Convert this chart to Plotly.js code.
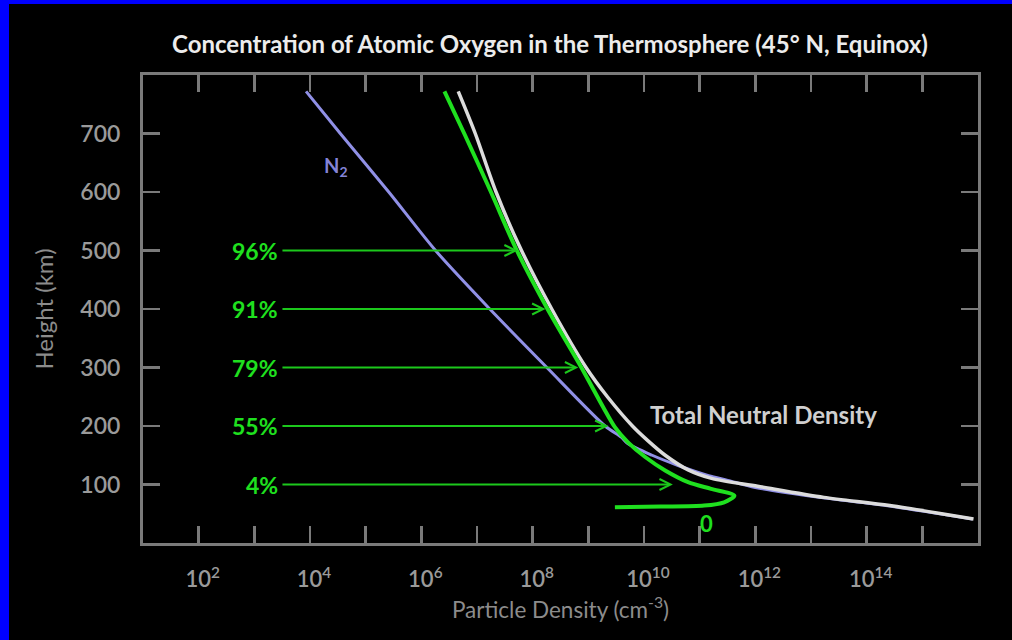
<!DOCTYPE html>
<html>
<head>
<meta charset="utf-8">
<script src="https://cdn.plot.ly/plotly-3.0.1.min.js"></script>
<style>
  html, body { margin: 0; padding: 0; background: #000; width: 1012px; height: 640px; overflow: hidden; }
  #chart { position: absolute; left: 0; top: 0; width: 1012px; height: 640px; }
  .bl { position: absolute; left: 0; top: 0; width: 9px; height: 640px; background: #0000ff; z-index: 5; }
  .bt { position: absolute; left: 0; top: 0; width: 1012px; height: 4px; background: #0000ff; z-index: 5; }
</style>
</head>
<body>
<div id="chart"></div>
<div class="bl"></div>
<div class="bt"></div>
<script>
// ---- data (height in km, density in cm^-3) ----
const n2Height  = [772, 700, 600, 500, 400, 300, 200, 181, 170, 150, 132.5, 115, 107, 95, 78, 64, 41];
const n2Density = [8.5e3, 3.5e4, 2.6e5, 1.8e6, 1.7e7, 1.8e8, 2.0e9, 3.9e9, 5.1e9, 1.4e10, 4.1e10, 1.45e11, 3.2e11, 1.0e12, 1.4e13, 2.2e14, 7.9e15];

const oHeight  = [772, 700, 600, 500, 400, 300, 232, 198, 172.5, 147, 124, 104, 92.6, 81, 69.6, 64, 62.2, 61];
const oDensity = [2.6e6, 5.9e6, 1.78e7, 5.2e7, 1.85e8, 7.5e8, 1.85e9, 3.0e9, 5.1e9, 1.05e10, 2.4e10, 6.2e10, 1.6e11, 4.2e11, 2.75e11, 1.2e11, 2.0e10, 3.0e9];

const totalHeight  = [772, 700, 600, 500, 400, 300, 250, 200, 175, 150, 125, 110, 97, 78, 64, 41];
const totalDensity = [4.6e6, 9.3e6, 2.2e7, 6.3e7, 2.2e8, 9.1e8, 2.2e9, 6.2e9, 1.17e10, 2.4e10, 6.2e10, 1.7e11, 1.1e12, 1.7e13, 2.6e14, 8.3e15];

// percentage arrows (fraction of atomic oxygen)
const arrowLabels      = ['96%', '91%', '79%', '55%', '4%'];
const arrowHeights     = [500, 400, 300, 200, 100];
const arrowTipDensity  = [5.4e7, 1.7e8, 6.6e8, 2.3e9, 3.3e10];
const arrowTailDensity = 3.2e3;

// axis ticks
const xTickVals = [1e2, 1e4, 1e6, 1e8, 1e10, 1e12, 1e14];
const xTickText = ['10<sup>2</sup>', '10<sup>4</sup>', '10<sup>6</sup>', '10<sup>8</sup>',
                   '10<sup>10</sup>', '10<sup>12</sup>', '10<sup>14</sup>'];
const xMinorVals = [1e3, 1e5, 1e7, 1e9, 1e11, 1e13, 1e15];
const yTickVals = [100, 200, 300, 400, 500, 600, 700];

// labels
const titleText = 'Concentration of Atomic Oxygen in the Thermosphere (45° N, Equinox)';
const xTitle = 'Particle Density (cm<sup>-3</sup>)';
const yTitle = 'Height (km)';
const n2Label = { text: 'N<sub>2</sub>', density: 2.95e4, height: 644 };
const totalLabel = { text: 'Total Neutral Density', density: 1.4e12, height: 220 };
const zeroLabel = { text: '0', density: 1.35e11, height: 33 };

// ---- styles ----
const FONT = 'Lato, "Open Sans", sans-serif';
const GREEN = '#1fe01f';
const ARROW_GREEN = '#1cc81c';
const AXIS_GRAY = '#7a7a7a';
const TICK_STYLE = { ticks: 'inside', ticklen: 17, tickwidth: 2.5, tickcolor: AXIS_GRAY };

const traces = [
  { x: n2Density, y: n2Height, mode: 'lines', line: { color: '#9090e6', width: 3, shape: 'spline', smoothing: 0.8 }, hoverinfo: 'skip' },
  { x: totalDensity, y: totalHeight, mode: 'lines', line: { color: '#dcdcdc', width: 3.5, shape: 'spline', smoothing: 0.8 }, hoverinfo: 'skip' },
  { x: oDensity, y: oHeight, mode: 'lines', line: { color: GREEN, width: 4, shape: 'spline', smoothing: 0.8 }, hoverinfo: 'skip' }
];

const annotations = [];
arrowLabels.forEach((lab, i) => {
  annotations.push({
    x: Math.log10(arrowTipDensity[i]), y: arrowHeights[i], xref: 'x', yref: 'y',
    ax: Math.log10(arrowTailDensity), ay: arrowHeights[i], axref: 'x', ayref: 'y',
    text: lab, xanchor: 'right', yanchor: 'middle', borderpad: 4, borderwidth: 0,
    font: { family: FONT, size: 23, color: GREEN, weight: 'bold' },
    showarrow: true, arrowhead: 5, arrowsize: 1.2, arrowwidth: 1.8,
    arrowcolor: ARROW_GREEN, standoff: 0, startstandoff: 0
  });
});
annotations.push({
  x: Math.log10(n2Label.density), y: n2Label.height, xref: 'x', yref: 'y', text: n2Label.text,
  showarrow: false, font: { family: FONT, size: 20, color: '#8484d8', weight: 'bold' }
});
annotations.push({
  x: Math.log10(totalLabel.density), y: totalLabel.height, xref: 'x', yref: 'y', text: totalLabel.text,
  showarrow: false, font: { family: FONT, size: 24, color: '#cfcfcf', weight: 'bold' }
});
annotations.push({
  x: Math.log10(zeroLabel.density), y: zeroLabel.height, xref: 'x', yref: 'y', text: zeroLabel.text,
  showarrow: false, font: { family: FONT, size: 22, color: GREEN, weight: 'bold' }
});

const layout = {
  width: 1012, height: 640,
  paper_bgcolor: '#000', plot_bgcolor: '#000',
  margin: { l: 143, r: 34, t: 75, b: 97 },
  showlegend: false,
  title: {
    text: titleText, x: 0.5435, xref: 'container', xanchor: 'center',
    y: 0.93, yref: 'container', yanchor: 'middle',
    font: { family: FONT, size: 24, color: '#ececec', weight: 'bold' }
  },
  xaxis: Object.assign({
    type: 'log', range: [1, 16], tickmode: 'array', tickvals: xTickVals, ticktext: xTickText,
    minor: Object.assign({ tickmode: 'array', tickvals: xMinorVals, showgrid: false }, TICK_STYLE),
    showline: true, linecolor: AXIS_GRAY, linewidth: 3, mirror: 'ticks',
    showgrid: false, zeroline: false, ticklabelstandoff: 15, ticklabelshift: 4,
    tickfont: { family: FONT, size: 22, color: '#9a9a9a', weight: 600 },
    title: { text: xTitle, standoff: 5, font: { family: FONT, size: 22.5, color: '#8c8c8c' } }
  }, TICK_STYLE),
  yaxis: Object.assign({
    range: [0, 800], tickmode: 'array', tickvals: yTickVals,
    showline: true, linecolor: AXIS_GRAY, linewidth: 3, mirror: 'ticks',
    showgrid: false, zeroline: false, ticklabelstandoff: 15,
    tickfont: { family: FONT, size: 23, color: '#9a9a9a', weight: 600 },
    title: { text: yTitle, standoff: 20, font: { family: FONT, size: 24, color: '#8c8c8c' } }
  }, TICK_STYLE),
  annotations: annotations
};

Plotly.newPlot('chart', traces, layout, { displayModeBar: false, staticPlot: true });
</script>
</body>
</html>
